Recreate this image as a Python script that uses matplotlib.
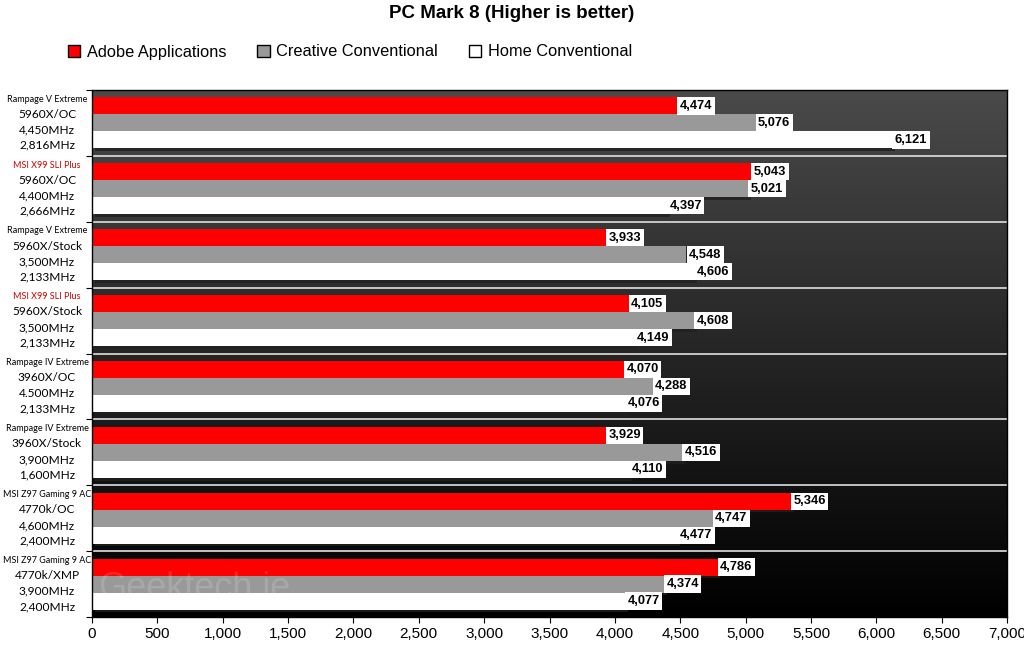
import matplotlib
matplotlib.use("Agg")
import matplotlib.pyplot as plt
import matplotlib.patheffects as pe
import numpy as np
from matplotlib.patches import Patch
from matplotlib.transforms import blended_transform_factory

boards = ["Rampage V Extreme", "MSI X99 SLI Plus", "Rampage V Extreme", "MSI X99 SLI Plus",
          "Rampage IV Extreme", "Rampage IV Extreme", "MSI Z97 Gaming 9 AC", "MSI Z97 Gaming 9 AC"]
board_colors = ["black", "#d00000", "black", "#d00000", "black", "black", "black", "black"]
cpus = ["5960X/OC", "5960X/OC", "5960X/Stock", "5960X/Stock", "3960X/OC", "3960X/Stock", "4770k/OC", "4770k/XMP"]
cpu_clock = ["4,450MHz", "4,400MHz", "3,500MHz", "3,500MHz", "4.500MHz", "3,900MHz", "4,600MHz", "3,900MHz"]
mem_clock = ["2,816MHz", "2,666MHz", "2,133MHz", "2,133MHz", "2,133MHz", "1,600MHz", "2,400MHz", "2,400MHz"]

series_names = ["Adobe Applications", "Creative Conventional", "Home Conventional"]
adobe = [4474, 5043, 3933, 4105, 4070, 3929, 5346, 4786]
creative = [5076, 5021, 4548, 4608, 4288, 4516, 4747, 4374]
home = [6121, 4397, 4606, 4149, 4076, 4110, 4477, 4077]
series_colors = ["#ff0000", "#999999", "#ffffff"]

xticks = list(range(0, 7001, 500))

fig = plt.figure(figsize=(10.24, 6.45), dpi=100)
fig.patch.set_facecolor("white")
ax = fig.add_axes([92/1024, 1-617/645, 915/1024, 527/645])

n = len(boards)
ax.set_xlim(0, 7000)
ax.set_ylim(n - 0.5, -0.5)

# gradient background
grad = np.linspace(0, 1, 256).reshape(-1, 1)
ax.imshow(grad, extent=[0, 7000, n - 0.5, -0.5], aspect="auto",
          cmap=matplotlib.colors.LinearSegmentedColormap.from_list("bg", ["#4a4a4a", "#000000"]),
          zorder=0, interpolation="bicubic")

h = 0.258
y = np.arange(n)
shadow = [pe.SimplePatchShadow(offset=(2, -2), shadow_rgbFace="#202020", alpha=0.8), pe.Normal()]
for k, (vals, col) in enumerate(zip([adobe, creative, home], series_colors)):
    ys = y + (k - 1) * h
    bars = ax.barh(ys, vals, height=h, color=col, edgecolor="none", zorder=2, label=series_names[k])
    for b in bars:
        b.set_path_effects(shadow)
    for yy, v in zip(ys, vals):
        ax.text(v + 20, yy, f"{v:,}", va="center", ha="left", fontsize=9.3, fontweight="bold",
                family="Liberation Sans", color="black", zorder=4,
                bbox=dict(boxstyle="square,pad=0.2", fc="white", ec="none"))

# separators
for b in np.arange(0.5, n - 0.5, 1):
    ax.axhline(b, color="#e0e0e0", lw=1.2, zorder=1)

ax.set_yticks(np.arange(-0.5, n, 1))
ax.set_yticklabels([])
ax.tick_params(axis="y", length=4, color="black")
ax.set_xticks(xticks)
ax.set_xticklabels([f"{t:,}" for t in xticks], fontsize=11, family="Liberation Sans")
ax.tick_params(axis="x", length=4)
for s in ax.spines.values():
    s.set_color("black")
    s.set_linewidth(1)

tr = blended_transform_factory(fig.transFigure, ax.transData)
lx = 47 / 1024
for i in range(n):
    ax.text(lx, i - 0.36, boards[i], transform=tr, ha="center", va="center", fontsize=6.5,
            family="Lato", color=board_colors[i], clip_on=False)
    for off, txt in zip([-0.13, 0.11, 0.34], [cpus[i], cpu_clock[i], mem_clock[i]]):
        ax.text(lx, i + off, txt, transform=tr, ha="center", va="center", fontsize=8.6,
                family="Lato", color="black", clip_on=False)

# watermark
fig.text(98/1024, 1 - 588/645, "Geektech.ie", fontsize=26, color="white",
         alpha=0.15, family="Liberation Sans", va="center", ha="left", zorder=5)

fig.text(0.5, 1 - 14/645, "PC Mark 8 (Higher is better)", ha="center", va="center",
         fontsize=13.5, fontweight="bold", family="Liberation Sans")

handles = [Patch(facecolor=c, edgecolor="black", label=l) for c, l in zip(series_colors, series_names)]
fig.legend(handles=handles, loc="center", bbox_to_anchor=(350/1024, 1 - 52/645), ncol=3,
           frameon=False, prop={"family": "Liberation Sans", "size": 11.8},
           handlelength=0.75, handleheight=0.75, columnspacing=1.9, handletextpad=0.4)

fig.savefig("out.png", dpi=100)
